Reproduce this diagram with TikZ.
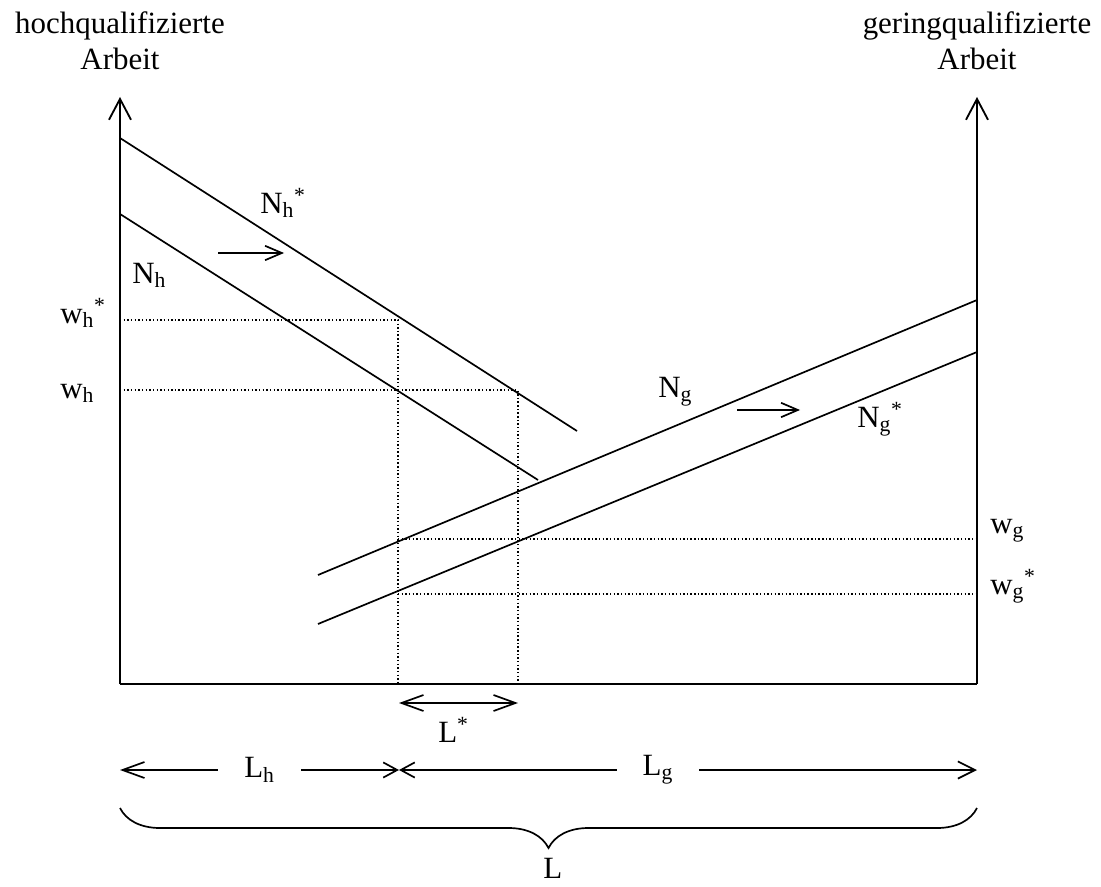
\documentclass[tikz,border=0pt]{standalone}
\usepackage{fontspec}
\setmainfont{Liberation Serif}
\usetikzlibrary{arrows.meta,decorations.pathreplacing}

\begin{document}
\begin{tikzpicture}[
  x=0.025cm, y=-0.025cm,
  font=\fontsize{22}{26}\selectfont,
  axis/.style={line width=1.3pt,-{Straight Barb[length=5.2mm,width=5.5mm,line width=1.3pt]}},
  curve/.style={line width=1.2pt},
  guide/.style={line width=0.8pt,dash pattern=on 1pt off 1.6pt},
  shiftarrow/.style={line width=1.2pt,-{Straight Barb[length=4.2mm,width=3.6mm,line width=1.2pt]}},
  longtip/.tip={Straight Barb[length=5.5mm,width=4mm,line width=1.2pt]},
  shorttip/.tip={Straight Barb[length=3.5mm,width=3.8mm,line width=1.2pt]},
  midtip/.tip={Straight Barb[length=4.3mm,width=4.3mm,line width=1.2pt]},
  span/.style={line width=1.2pt},
  tag/.style={anchor=base west,inner sep=0pt},
  gap/.style={fill=white,inner xsep=0.65cm,inner ysep=0pt}
]
  \useasboundingbox (0,0) rectangle (1101,887);

  % axes
  \coordinate (O) at (120,684);
  \coordinate (R) at (977,684);
  \coordinate (Otop) at (120,97);
  \coordinate (Rtop) at (977,97);
  \draw[axis] (O) -- (Otop);
  \draw[axis] (R) -- (Rtop);
  \draw[curve] (O) -- (R);
  \node[align=center,anchor=base] (hoch) at (120,70) {hochqualifizierte\\Arbeit};
  \node[align=center,anchor=base] (gering) at (977,70) {geringqualifizierte\\Arbeit};

  % demand curves
  \draw[curve] (120,138) -- (577,431);
  \draw[curve] (120,214) -- (538,480);
  \draw[curve] (318,575) -- (977,300);
  \draw[curve] (318,624) -- (977,352);
  \node[tag] (nhs) at (260,213) {N\textsubscript{h}\textsuperscript{*}};
  \node[tag] (nh) at (132,283) {N\textsubscript{h}};
  \node[tag] (ng) at (658,397) {N\textsubscript{g}};
  \node[tag] (ngs) at (857,427) {N\textsubscript{g}\textsuperscript{*}};
  \coordinate (hA) at (218,253);
  \coordinate (hB) at (284,253);
  \coordinate (gA) at (737,410);
  \coordinate (gB) at (800,410);
  \draw[shiftarrow] (hA) -- (hB);
  \draw[shiftarrow] (gA) -- (gB);

  % wages
  \draw[guide] (120,320) -- (398,320) -- (398,684);
  \draw[guide] (120,390) -- (518,390) -- (518,684);
  \draw[guide] (398,539) -- (977,539);
  \draw[guide] (398,594) -- (977,594);
  \node[tag] (whs) at (60,323) {w\textsubscript{h}\textsuperscript{*}};
  \node[tag] (wh) at (60,398) {w\textsubscript{h}};
  \node[tag] (wg) at (990,533) {w\textsubscript{g}};
  \node[tag] (wgs) at (990,594) {w\textsubscript{g}\textsuperscript{*}};

  % labour
  \coordinate (sA) at (399,703);
  \coordinate (sB) at (518,703);
  \draw[span,longtip-longtip] (sA) -- (sB);
  \node[tag] (ls) at (438,742) {L\textsuperscript{*}};
  \coordinate (lA) at (120,770);
  \coordinate (lM) at (399,770);
  \coordinate (lB) at (977,770);
  \draw[span,longtip-shorttip] (lA) -- node[gap] (lh) {L\textsubscript{h}} (lM);
  \draw[span,shorttip-midtip] (lM) -- node[gap,pos=0.448] (lg) {L\textsubscript{g}} (lB);
  \draw[curve,decorate,decoration={brace,mirror,amplitude=1cm}] (120,808) -- (977,808);
  \node[tag] (ltot) at (543,878) {L};
\end{tikzpicture}
\end{document}
